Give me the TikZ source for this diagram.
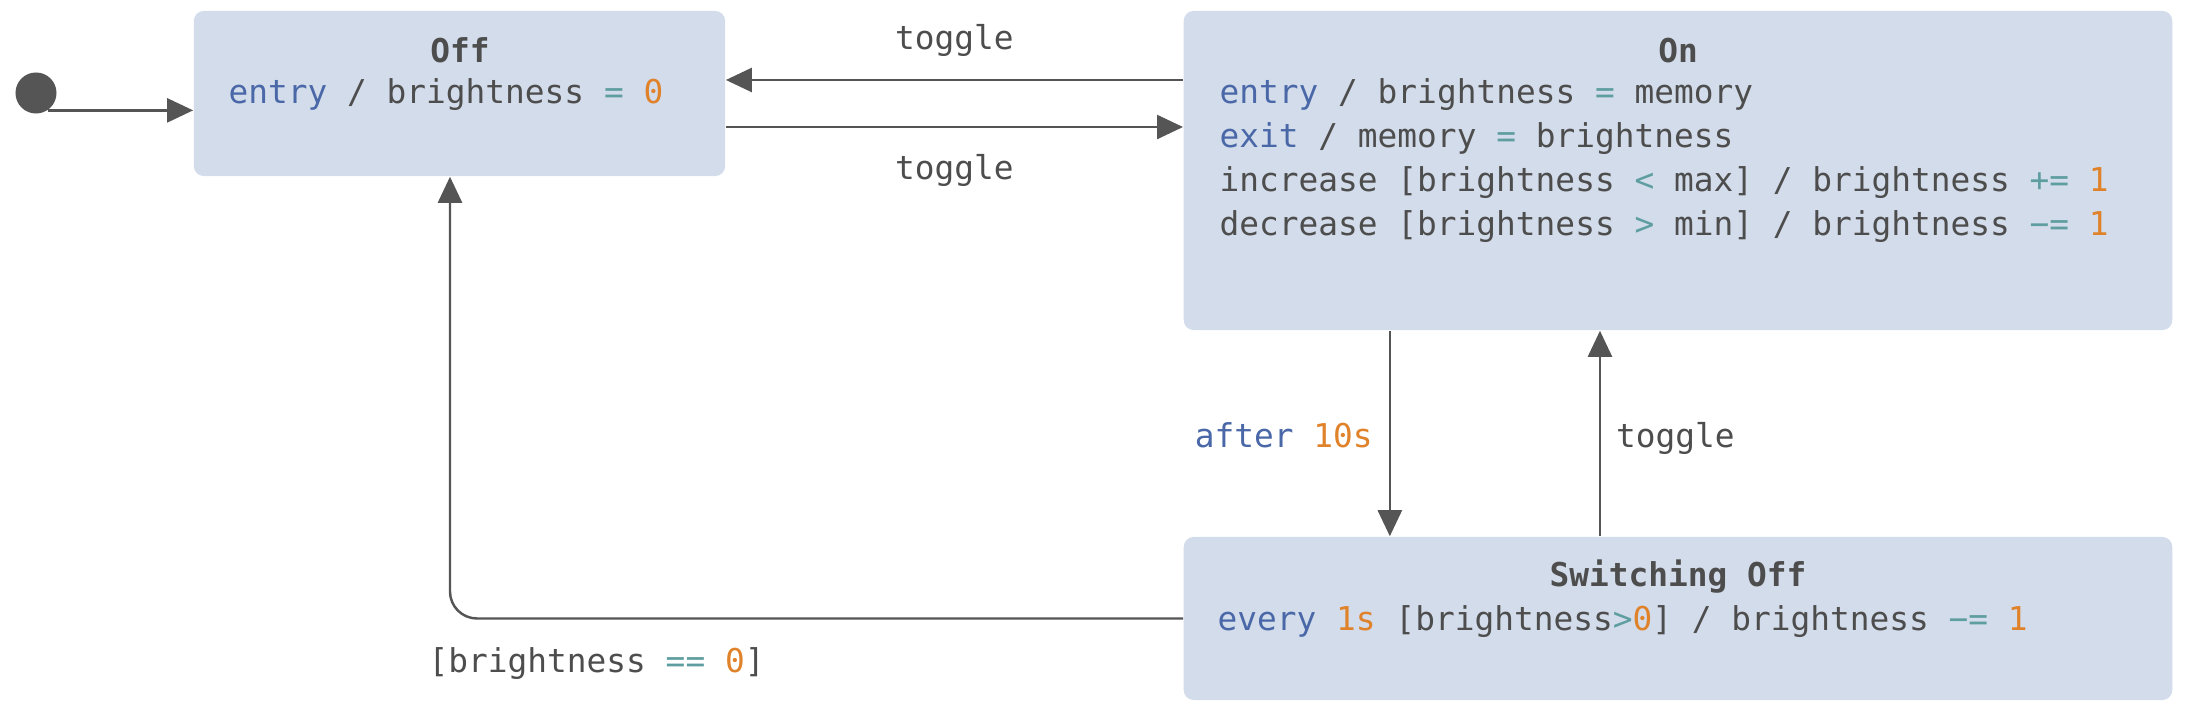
\documentclass[tikz,border=0pt]{standalone}
\usepackage{fontspec}
\setmonofont{DejaVu Sans Mono}
\usetikzlibrary{arrows.meta}

\definecolor{boxfill}{HTML}{D3DCEA}
\definecolor{ink}{HTML}{4D4D4D}
\definecolor{edgegray}{HTML}{555555}
\definecolor{kwblue}{HTML}{4A68A8}
\definecolor{opteal}{HTML}{5F9EA0}
\definecolor{numorange}{HTML}{E0822A}

\newcommand{\kw}[1]{\textcolor{kwblue}{#1}}
\newcommand{\op}[1]{\textcolor{opteal}{#1}}
\newcommand{\num}[1]{\textcolor{numorange}{#1}}
\newcommand{\codesize}{\fontsize{9.33}{11}\selectfont}

\tikzset{
    statebox/.style={fill=boxfill, draw=none, rounded corners=0.1cm, inner sep=0},
    trans/.style={draw=edgegray, line width=0.7pt, -{Triangle[length=0.26cm, width=0.24cm]}},
    code/.style={font=\ttfamily\codesize, text=ink, inner sep=0},
    title/.style={font=\ttfamily\bfseries\codesize, text=ink, inner sep=0, anchor=base},
}

\begin{document}
\begin{tikzpicture}[x=0.01cm, y=-0.01cm]
    \useasboundingbox (0,0) rectangle (2203,707);

% states
    \node[statebox, minimum width=5.31cm, minimum height=1.65cm] (off) at (459.5, 93.5) {};
    \node[statebox, minimum width=9.88cm, minimum height=3.19cm] (on) at (1678, 170.5) {};
    \node[statebox, minimum width=9.88cm, minimum height=1.63cm] (sw) at (1678, 618.5) {};
    \node[circle, fill=edgegray, minimum size=0.41cm, inner sep=0] (init) at (36, 93) {};

% texts in Off
    \node[title] (offtitle) at (460, 63) {Off};
    \node[code, anchor=base west] (offentry) at (228, 104) {\kw{entry} / brightness \op{=} \num{0}};

% texts in On
    \node[title] (ontitle) at (1678, 63) {On};
    \node[code, anchor=base west] (onentry) at (1219, 104) {\kw{entry} / brightness \op{=} memory};
    \node[code, anchor=base west] (onexit) at (1219, 148) {\kw{exit} / memory \op{=} brightness};
    \node[code, anchor=base west] (oninc) at (1219, 192) {increase [brightness \op{<} max] / brightness \op{+=} \num{1}};
    \node[code, anchor=base west] (ondec) at (1219, 236) {decrease [brightness \op{>} min] / brightness \op{−=} \num{1}};

% texts in Switching Off
    \node[title] (swtitle) at (1678, 587) {Switching Off};
    \node[code, anchor=base west] (swevery) at (1217, 631) {\kw{every} \num{1s} [brightness\op{>}\num{0}] / brightness \op{−=} \num{1}};

% transitions
    \draw[trans] (init.-55) -- (init.-55 -| off.west);
    \draw[trans] ([yshift=0.135cm]off.east -| on.west) -- ([yshift=0.135cm]off.east)
        node[code, midway, above=0.22cm] {toggle};
    \draw[trans] ([yshift=-0.335cm]off.east) -- ([yshift=-0.335cm]off.east -| on.west)
        node[code, midway, below=0.26cm] {toggle};
    \draw[trans] ([xshift=-2.88cm]on.south) -- ([xshift=-2.88cm]sw.north)
        node[code, midway, left=0.16cm, yshift=-0.015cm] {\kw{after} \num{10s}};
    \draw[trans] ([xshift=-0.78cm]sw.north) -- ([xshift=-0.78cm]on.south)
        node[code, midway, right=0.15cm, yshift=-0.045cm] {toggle};
    \draw[trans, rounded corners=0.27cm] (sw.west) -| ([xshift=-0.095cm]off.south)
        node[code, pos=0.4, below=0.28cm] {[brightness \op{==} \num{0}]};

\end{tikzpicture}
\end{document}
